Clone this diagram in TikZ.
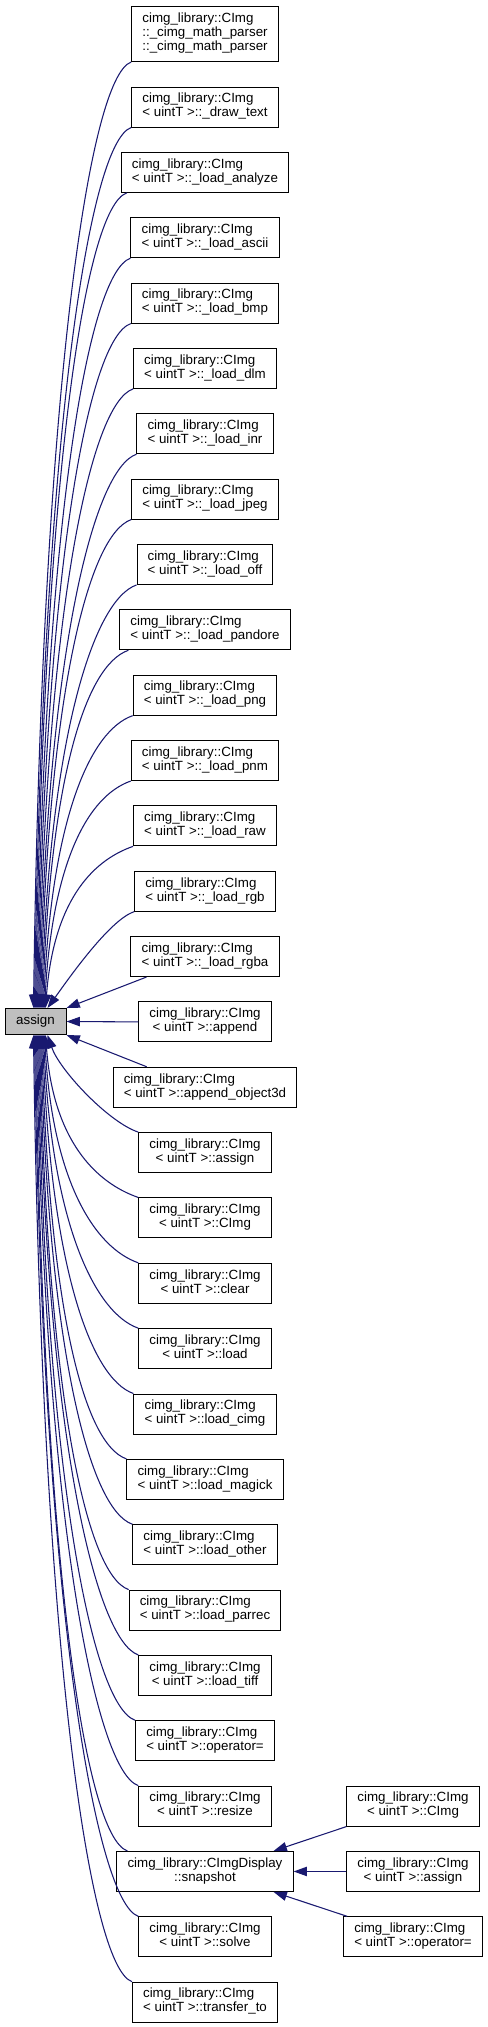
\documentclass[tikz,border=0pt]{standalone}
\usepackage{fontspec}
\setmainfont{Liberation Sans}
\usetikzlibrary{arrows.meta,calc}
\definecolor{edgeblue}{HTML}{191970}
\definecolor{curgray}{HTML}{BFBFBF}
\newcommand\twol[2]{\begin{tabular}{@{}l@{}}#1\\\multicolumn{1}{@{}c@{}}{#2}\end{tabular}}
\newcommand\cimgl[1]{\twol{cimg\_library::CImg}{< uintT >::#1}}
\newcommand\uedge[4]{\draw[conn] ($(#1.south west)+(#2,0)$) .. controls +(-43,15) and +(8,-#3) .. ($(assign.north west)+(#4,0)$);}
\newcommand\ledge[4]{\draw[conn] ($(#1.north west)+(#2,0)$) .. controls +(-43,-15) and +(8,#3) .. ($(assign.south west)+(#4,0)$);}
\begin{document}
\begin{tikzpicture}[x=0.75pt,y=-0.75pt,
  box/.style={draw=black,fill=white,line width=0.75pt,inner xsep=8pt,inner ysep=0pt,minimum height=30pt,font=\fontsize{10pt}{10.5pt}\selectfont},
  cur/.style={box,fill=curgray,minimum height=19.5pt,minimum width=45.75pt},
  conn/.style={draw=edgeblue,line width=0.8pt,-{Triangle[length=10pt,width=7pt]}}]
\useasboundingbox (0,0) rectangle (488,2027);
% current node
\node[cur] (assign) at (35.5,1021.5) {assign};
% left column
\node[box,minimum height=41.25pt] (n0) at (205,34) {\begin{tabular}{@{}l@{}}cimg\_library::CImg\\::\_cimg\_math\_parser\\\multicolumn{1}{@{}c@{}}{::\_cimg\_math\_parser}\end{tabular}};
\node[box] (n1) at (205,107) {\cimgl{\_draw\_text}};
\node[box] (n2) at (205,172.35) {\cimgl{\_load\_analyze}};
\node[box] (n3) at (205,237.7) {\cimgl{\_load\_ascii}};
\node[box] (n4) at (205,303.05) {\cimgl{\_load\_bmp}};
\node[box] (n5) at (205,368.4) {\cimgl{\_load\_dlm}};
\node[box] (n6) at (205,433.75) {\cimgl{\_load\_inr}};
\node[box] (n7) at (205,499.1) {\cimgl{\_load\_jpeg}};
\node[box] (n8) at (205,564.45) {\cimgl{\_load\_off}};
\node[box] (n9) at (205,629.8) {\cimgl{\_load\_pandore}};
\node[box] (n10) at (205,695.15) {\cimgl{\_load\_png}};
\node[box] (n11) at (205,760.5) {\cimgl{\_load\_pnm}};
\node[box] (n12) at (205,825.85) {\cimgl{\_load\_raw}};
\node[box] (n13) at (205,891.2) {\cimgl{\_load\_rgb}};
\node[box] (n14) at (205,956.55) {\cimgl{\_load\_rgba}};
\node[box] (n15) at (205,1021.9) {\cimgl{append}};
\node[box] (n16) at (205,1087.25) {\cimgl{append\_object3d}};
\node[box] (n17) at (205,1152.6) {\cimgl{assign}};
\node[box] (n18) at (205,1217.95) {\cimgl{CImg}};
\node[box] (n19) at (205,1283.3) {\cimgl{clear}};
\node[box] (n20) at (205,1348.65) {\cimgl{load}};
\node[box] (n21) at (205,1414) {\cimgl{load\_cimg}};
\node[box] (n22) at (205,1479.35) {\cimgl{load\_magick}};
\node[box] (n23) at (205,1544.7) {\cimgl{load\_other}};
\node[box] (n24) at (205,1610.05) {\cimgl{load\_parrec}};
\node[box] (n25) at (205,1675.4) {\cimgl{load\_tiff}};
\node[box] (n26) at (205,1740.75) {\cimgl{operator=}};
\node[box] (n27) at (205,1806.1) {\cimgl{resize}};
\node[box] (n28) at (205,1871.45) {\twol{cimg\_library::CImgDisplay}{::snapshot}};
\node[box] (n29) at (205,1936.8) {\cimgl{solve}};
\node[box] (n30) at (205,2002.15) {\cimgl{transfer\_to}};
% right column
\node[box] (r1) at (413,1806.1) {\cimgl{CImg}};
\node[box] (r2) at (413,1871.45) {\cimgl{assign}};
\node[box] (r3) at (413,1936.8) {\cimgl{operator=}};
% edges from nodes above
\uedge{n0}{0}{606}{29}
\uedge{n1}{0}{564}{30}
\uedge{n2}{6}{522}{31}
\uedge{n3}{0}{480}{32}
\uedge{n4}{0}{438}{33}
\uedge{n5}{0}{397}{34}
\uedge{n6}{0}{355}{35}
\uedge{n7}{0}{313}{36}
\uedge{n8}{0}{271}{37}
\uedge{n9}{9}{230}{38}
\uedge{n10}{0}{188}{39}
\uedge{n11}{0}{146}{40}
\uedge{n12}{0}{104}{41}
\draw[conn] (n13.south west) .. controls +(-25,8) and +(18,-25) .. ($(assign.north west)+(43,0)$);
\draw[conn] ($(n14.south west)+(16,0)$) -- (assign.north east);
\draw[conn] (n15.west) -- (assign.east);
% edges from nodes below
\draw[conn] ($(n16.north west)+(34,0)$) -- (assign.south east);
\draw[conn] (n17.north west) .. controls +(-30,-10) and +(12,35) .. ($(assign.south west)+(43,0)$);
\ledge{n18}{0}{105}{41}
\ledge{n19}{0}{147}{40}
\ledge{n20}{0}{189}{39}
\ledge{n21}{0}{230}{38}
\ledge{n22}{0}{272}{37}
\ledge{n23}{0}{314}{36}
\ledge{n24}{0}{356}{35}
\ledge{n25}{0}{398}{34}
\ledge{n26}{0}{440}{33}
\ledge{n27}{0}{481}{32}
\ledge{n28}{11}{523}{31}
\ledge{n29}{0}{565}{30}
\ledge{n30}{0}{607}{29}
% snapshot callers
\draw[conn] (r1.south west) -- ($(n28.north east)+(-20,0)$);
\draw[conn] (r2.west) -- (n28.east);
\draw[conn] ($(r3.north west)+(4,0)$) -- ($(n28.south east)+(-20,0)$);
\end{tikzpicture}
\end{document}
